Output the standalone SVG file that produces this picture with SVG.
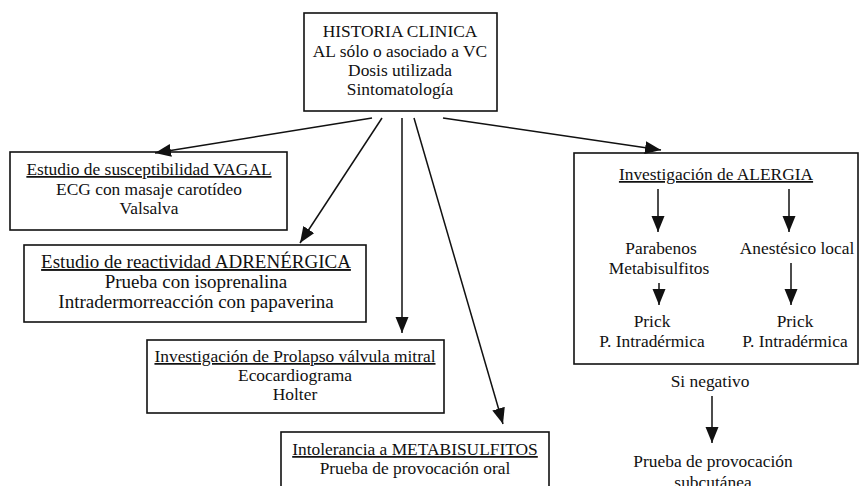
<svg xmlns="http://www.w3.org/2000/svg" width="861" height="486" viewBox="0 0 861 486">
<defs>
<style>
text{font-family:'Liberation Serif','Times New Roman','DejaVu Serif',serif;font-size:17.4px;fill:#111;text-anchor:middle}
text.big{font-size:19px}
.u{text-decoration:underline}
.box{fill:#fff;stroke:#111;stroke-width:1.6}
.c line{stroke:#111;stroke-width:1.5;marker-end:url(#ah)}
</style>
<marker id="ah" markerUnits="userSpaceOnUse" markerWidth="18" markerHeight="14" refX="16" refY="6.5" orient="auto" viewBox="0 0 18 14">
<path d="M0,0 L16,6.5 L0,13 z" fill="#111"/>
</marker>
</defs>
<rect width="861" height="486" fill="#fff"/>
<g font-family="Liberation Serif, Times New Roman, DejaVu Serif, serif">
<g id="historia">
<rect class="box" x="304" y="13" width="193" height="98"/>
<text x="400" y="37">HISTORIA CLINICA</text>
<text x="400" y="57">AL sólo o asociado a VC</text>
<text x="400" y="76">Dosis utilizada</text>
<text x="400" y="95">Sintomatología</text>
</g>
<g id="vagal">
<rect class="box" x="10" y="152" width="277" height="78"/>
<text class="u" x="149" y="175">Estudio de susceptibilidad VAGAL</text>
<text x="149" y="195">ECG con masaje carotídeo</text>
<text x="149" y="214">Valsalva</text>
</g>
<g id="adrenergica">
<rect class="box" x="24" y="245" width="342" height="77"/>
<text class="u big" x="196" y="268">Estudio de reactividad ADRENÉRGICA</text>
<text class="big" x="196" y="288">Prueba con isoprenalina</text>
<text class="big" x="196" y="308">Intradermorreacción con papaverina</text>
</g>
<g id="prolapso">
<rect class="box" x="147" y="340" width="297" height="73"/>
<text class="u" x="295" y="362">Investigación de Prolapso válvula mitral</text>
<text x="295" y="381">Ecocardiograma</text>
<text x="295" y="400">Holter</text>
</g>
<g id="metabisulfitos">
<rect class="box" x="281" y="432" width="268" height="70"/>
<text class="u" x="415" y="455">Intolerancia a METABISULFITOS</text>
<text x="415" y="474">Prueba de provocación oral</text>
</g>
<g id="alergia">
<rect class="box" x="574" y="153" width="284" height="211"/>
<text class="u" x="716" y="180">Investigación de ALERGIA</text>
<text x="661" y="254">Parabenos</text>
<text x="659" y="274">Metabisulfitos</text>
<text x="797" y="254">Anestésico local</text>
<text x="652" y="327">Prick</text>
<text x="652" y="347">P. Intradérmica</text>
<text x="795" y="327">Prick</text>
<text x="795" y="347">P. Intradérmica</text>
</g>
<g id="si-negativo">
<text x="710" y="387">Si negativo</text>
</g>
<g id="provocacion-subcutanea">
<text x="713" y="467">Prueba de provocación</text>
<text x="713" y="488">subcutánea</text>
</g>
</g>
<g id="connectors" class="c">
<line x1="372" y1="118" x2="155" y2="153"/>
<line x1="382" y1="118" x2="300" y2="243"/>
<line x1="402" y1="118" x2="402" y2="333"/>
<line x1="414" y1="118" x2="503" y2="424"/>
<line x1="443" y1="118" x2="661" y2="150"/>
<line x1="658" y1="189" x2="658" y2="232"/>
<line x1="789" y1="189" x2="789" y2="232"/>
<line x1="659" y1="283" x2="659" y2="305"/>
<line x1="791" y1="263" x2="791" y2="305"/>
<line x1="712" y1="396" x2="712" y2="443"/>
</g>
</svg>
